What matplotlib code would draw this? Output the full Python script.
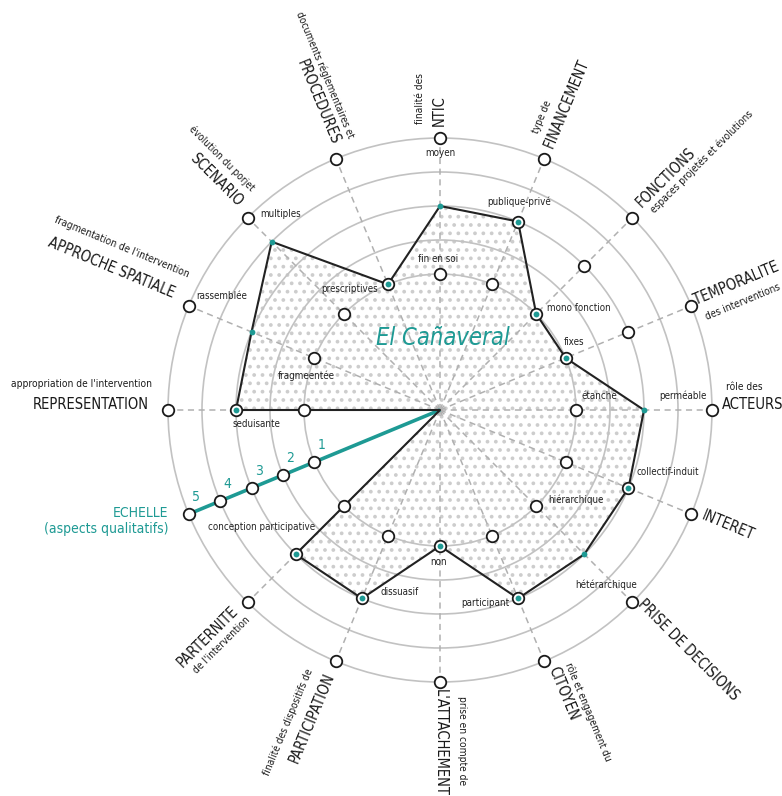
import numpy as np
import matplotlib
matplotlib.use('Agg')
import matplotlib.pyplot as plt
from matplotlib import font_manager

# ---- data ----
axis_names = ['NTIC', 'FINANCEMENT', 'FONCTIONS', 'TEMPORALITE', 'ACTEURS', 'INTERET',
              'PRISE DE DECISIONS', 'CITOYEN', "L'ATTACHEMENT", 'PARTICIPATION',
              'PARTERNITE', 'ECHELLE', 'REPRESENTATION', 'APPROCHE SPATIALE',
              'SCENARIO', 'PROCEDURES']
axis_subtitles = ['finalité des', 'type de', 'espaces projetés et évolutions',
                  'des interventions', 'rôle des', '', '', 'rôle et engagement du',
                  'prise en compte de', 'finalité des dispositifs de', "de l'intervention",
                  '(aspects qualitatifs)', "appropriation de l'intervention",
                  "fragmentation de l'intervention", 'évolution du porjet',
                  'documents réglementaires et']
# levels 1..5, None = centre of the chart
values = [3, 3, 1, 1, 3, 3, 3, 3, 1, 3, 3, None, 3, 3, 4, 1]
marker_levels = [[1, 5], [1, 3, 5], [1, 3, 5], [1, 3, 5], [1, 5], [1, 3, 5], [1, 5],
                 [1, 3, 5], [1, 5], [1, 3, 5], [1, 3, 5], [1, 2, 3, 4, 5], [1, 3, 5],
                 [1, 5], [1, 5], [1, 5]]
option_labels = ['moyen', 'fin en soi', 'publique-privé', 'mono fonction', 'fixes',
                 'perméable', 'étanche', 'collectif-induit', 'hiérarchique',
                 'hétérarchique', 'participant', 'non', 'dissuasif',
                 'conception participative', 'seduisante', 'fragmeentée',
                 'rassemblée', 'multiples', 'prescriptives']
scale_labels = ['1', '2', '3', '4', '5']
case_name = 'El Cañaveral'

# ---- layout ----
option_pos = [(90, 4.57), (90.76, 1.44), (69.2, 3.54), (36.27, 2.07), (26.9, 1.42),
              (3.3, 4.16), (5.0, 1.72), (-15.23, 3.94), (-33.55, 1.79), (-46.5, 4.09),
              (-76.86, 2.82), (-90.4, 1.46), (-102.4, 2.48), (-146.8, 3.27),
              (-175.6, 2.4), (165.8, 1.07), (152.4, 4.24), (129.2, 4.44), (126.94, 1.45)]
# (theta, r, rotation, ha)
title_pos = [(90.2, 5.82, 90, 'center'), (67.5, 6.77, 67.5, 'center'),
             (45.75, 6.53, 45, 'center'), (23.17, 6.49, 22.5, 'center'),
             (0.92, 6.2, 0, 'center'), (-21.77, 6.12, -22.5, 'center'),
             (-44.06, 7.15, -45, 'center'), (-66.5, 6.08, -67.5, 'center'),
             (-90, 6.79, -90, 'center'), (-112.6, 6.81, 67.5, 'center'),
             (-135.63, 6.55, 45, 'center'), None,
             (179.0, 5.56, 0, 'right'), (156.6, 7.52, -22.5, 'center'),
             (134.16, 6.43, -45, 'center'), (111.59, 6.75, -67.5, 'center')]
sub_pos = [(93.67, 6.19, 90, 'center'), (70.86, 6.12, 67.5, 'center'),
           (43.46, 7.60, 45, 'center'), (19.62, 6.46, 22.5, 'center'),
           (4.33, 5.97, 0, 'center'), None, None, (-63.9, 6.89, -67.5, 'center'),
           (-86.19, 6.73, -90, 'center'), (-115.98, 7.21, 67.5, 'center'),
           (-132.9, 6.43, 45, 'center'), None,
           (174.84, 5.5, 0, 'right'), (152.84, 7.52, -22.5, 'center'),
           (130.9, 6.81, -45, 'center'), (108.95, 7.42, -67.5, 'center')]

TEAL = '#1e9a94'
GREY = '#c2c2c2'

names = {f.name for f in font_manager.fontManager.ttflist}
if 'Liberation Sans Narrow' in names:
    FONT, STRETCH = 'Liberation Sans Narrow', 'normal'
else:
    FONT, STRETCH = 'DejaVu Sans', 'condensed'
plt.rcParams['font.family'] = [FONT, 'DejaVu Sans']
plt.rcParams['font.stretch'] = STRETCH
plt.rcParams['hatch.linewidth'] = 1.5

n = len(axis_names)
angles = np.deg2rad(90 - 22.5 * np.arange(n))
rmin, rmax = -3, 5.5
half = 34 * (rmax - rmin)  # 34 px per level

fig = plt.figure(figsize=(7.82, 7.96), dpi=100)
ax = fig.add_axes([(440 - half) / 782, (386 - half) / 796, 2 * half / 782, 2 * half / 796],
                  projection='polar')
ax.set_ylim(rmin, rmax)
ax.set_yticks([1, 2, 3, 4, 5])
ax.set_yticklabels([])
ax.set_xticks([])
ax.grid(axis='y', color=GREY, lw=1.2)
ax.spines['polar'].set_visible(False)
ax.set_facecolor('none')

# polygon
r_vals = np.array([rmin if v is None else v for v in values], float)
th_closed = np.append(angles, angles[0])
r_closed = np.append(r_vals, r_vals[0])
ax.fill(th_closed, r_closed, facecolor='none', edgecolor='#cdcdcd', hatch='..',
        lw=0, zorder=1)

# axis lines
for i, th in enumerate(angles):
    if axis_names[i] == 'ECHELLE':
        continue
    ax.plot([th, th], [rmin, 5], color='#b0b0b0', lw=1.1, ls=(0, (4, 3)), zorder=2)
i_ech = axis_names.index('ECHELLE')
ax.plot([angles[i_ech], angles[i_ech]], [rmin, 5], color=TEAL, lw=2.6, zorder=3,
        solid_capstyle='butt')

ax.plot(th_closed, r_closed, color='#222222', lw=1.5, zorder=4)

# markers
for i, th in enumerate(angles):
    lv = marker_levels[i]
    ax.plot([th] * len(lv), lv, ls='none', marker='o', ms=8.3, mfc='white',
            mec='#1a1a1a', mew=1.3, zorder=5)
# data dots
has_val = np.array([v is not None for v in values])
ax.plot(angles[has_val], r_vals[has_val], ls='none', marker='o', ms=4.2, color=TEAL,
        mec='none', zorder=6)

# texts
for i in range(n):
    if title_pos[i] is not None:
        t, r, rot, ha = title_pos[i]
        ax.text(np.deg2rad(t), r, axis_names[i], rotation=rot, rotation_mode='anchor',
                ha=ha, va='center', fontsize=10.5, color='#1a1a1a')
    if sub_pos[i] is not None and axis_subtitles[i]:
        t, r, rot, ha = sub_pos[i]
        ax.text(np.deg2rad(t), r, axis_subtitles[i], rotation=rot,
                rotation_mode='anchor', ha=ha, va='center', fontsize=7.3,
                color='#1a1a1a')

ax.text(np.deg2rad(-157.8), 5.64, axis_names[i_ech] + '\n' + axis_subtitles[i_ech],
        ha='right', va='center', multialignment='right', fontsize=10,
        color=TEAL, linespacing=1.1)

for lab, (t, r) in zip(option_labels, option_pos):
    ax.text(np.deg2rad(t), r, lab, ha='center', va='center', fontsize=7,
            color='#222222', zorder=7)

for k, lab in enumerate(scale_labels):
    ax.annotate(lab, (angles[i_ech], k + 1), xytext=(7, 17), textcoords='offset pixels',
                ha='center', va='center', fontsize=10, color=TEAL)

ax.text(np.deg2rad(87.6), -0.88, case_name, ha='center', va='center',
        fontsize=17, style='italic', color=TEAL)

fig.savefig('out.png', dpi=100)
